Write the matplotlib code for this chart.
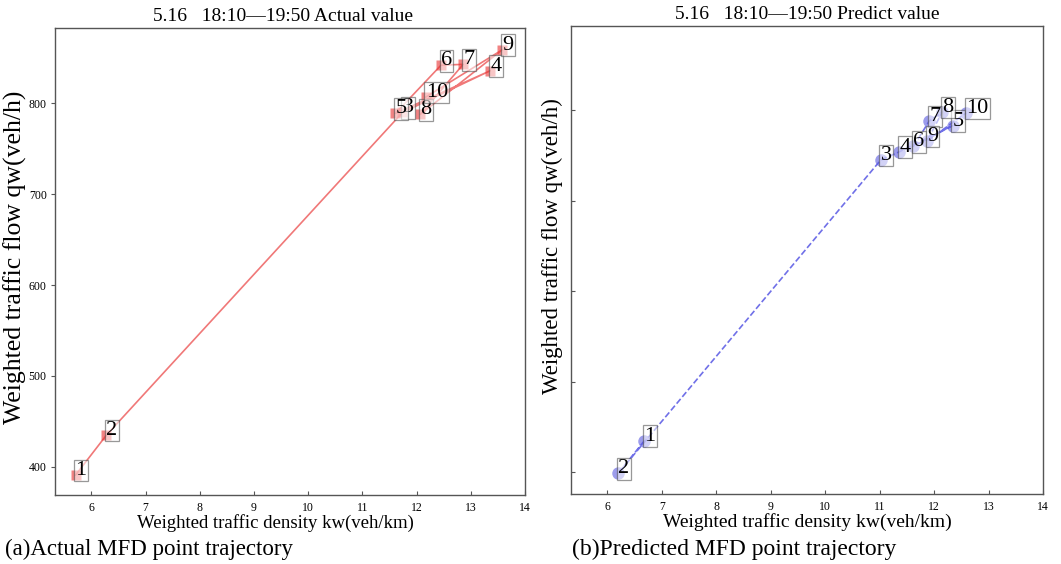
import matplotlib
matplotlib.use("Agg")
import matplotlib.pyplot as plt

plt.rcParams['font.family'] = ['Liberation Serif', 'DejaVu Serif']
plt.rcParams['mathtext.fontset'] = 'stix'

# ---- data ----
labels = [str(i) for i in range(1, 11)]
actual_k = [5.71, 6.28, 11.74, 13.36, 11.61, 12.45, 12.86, 12.07, 13.58, 12.17]
actual_q = [391, 435, 790, 836, 789, 842, 843, 788, 859, 807]
pred_k = [6.68, 6.20, 11.02, 11.36, 12.34, 11.62, 11.91, 12.15, 11.87, 12.59]
pred_q = [435, 399, 745, 754, 783, 760, 788, 798, 766, 797]

x_ticks = [6, 7, 8, 9, 10, 11, 12, 13, 14]
y_ticks = [400, 500, 600, 700, 800]

title_a = "5.16   18:10\u201419:50 Actual value"
title_b = "5.16   18:10\u201419:50 Predict value"
xlabel = "Weighted traffic density kw(veh/km)"
ylabel = "Weighted traffic flow qw(veh/h)"
cap_a = "(a)Actual MFD point trajectory"
cap_b = "(b)Predicted MFD point trajectory"

fig = plt.figure(figsize=(10.61, 5.64), dpi=100)
W, H = 1061, 564

def ax_rect(l, r, t, b):
    return [l / W, 1 - b / H, (r - l) / W, (b - t) / H]

ax1 = fig.add_axes(ax_rect(55, 525, 28, 495))
ax2 = fig.add_axes(ax_rect(571, 1043, 26, 494))

spine_col = '#555555'
for ax in (ax1, ax2):
    for s in ax.spines.values():
        s.set_color(spine_col)
        s.set_linewidth(1.0)
    ax.set_xlim(5.33, 14.0)
    ax.set_xticks(x_ticks)
    ax.tick_params(axis='both', labelsize=8.5, length=3, width=0.8, color=spine_col, pad=3)
    ax.tick_params(axis='x', direction='in', pad=5)

# left: actual
ax1.plot(actual_k, actual_q, '-', color='#f07878', lw=1.2, zorder=2)
ax1.plot(actual_k, actual_q, 's', color='#e83030', alpha=0.6, ms=7.5, mec='none', zorder=3)
ax1.set_ylim(369, 883)
ax1.set_yticks(y_ticks)
ax1.tick_params(axis='y', direction='out')
for k, q, t in zip(actual_k, actual_q, labels):
    ax1.text(k, q, t, fontsize=16, zorder=4,
             bbox=dict(boxstyle='square,pad=0.06', facecolor='white', edgecolor='#444444', alpha=0.55, lw=0.9))
ax1.set_title(title_a, fontsize=14, pad=5, x=0.485)
ax1.set_xlabel(xlabel, fontsize=13.5)
ax1.xaxis.set_label_coords(0.47, -0.04, transform=ax1.transAxes)
ax1.xaxis.label.set_va('top')
ax1.set_ylabel(ylabel, fontsize=18.5)
ax1.yaxis.set_label_coords(-0.06, 0.51, transform=ax1.transAxes)

# right: predicted
ax2.plot(pred_k, pred_q, '--', color='#7070e8', lw=1.2, zorder=2)
ax2.plot(pred_k, pred_q, 'o', color='#5a5ae0', alpha=0.6, ms=9, mec='none', zorder=3)
ax2.set_ylim(376, 893)
ax2.set_yticks(y_ticks)
ax2.set_yticklabels([])
ax2.tick_params(axis='y', direction='in')
for k, q, t in zip(pred_k, pred_q, labels):
    ax2.text(k, q, t, fontsize=16, zorder=4,
             bbox=dict(boxstyle='square,pad=0.06', facecolor='white', edgecolor='#444444', alpha=0.55, lw=0.9))
ax2.set_title(title_b, fontsize=14, pad=5)
ax2.set_xlabel(xlabel, fontsize=14)
ax2.xaxis.set_label_coords(0.5, -0.04, transform=ax2.transAxes)
ax2.xaxis.label.set_va('top')
ax2.set_ylabel(ylabel, fontsize=16.5)
ax2.yaxis.set_label_coords(-0.017, 0.53, transform=ax2.transAxes)

fig.text(5 / W, 1 - 549 / H, cap_a, fontsize=16.5, ha='left', va='center')
fig.text(572 / W, 1 - 549 / H, cap_b, fontsize=17, ha='left', va='center')

fig.savefig('out.png', dpi=100)
